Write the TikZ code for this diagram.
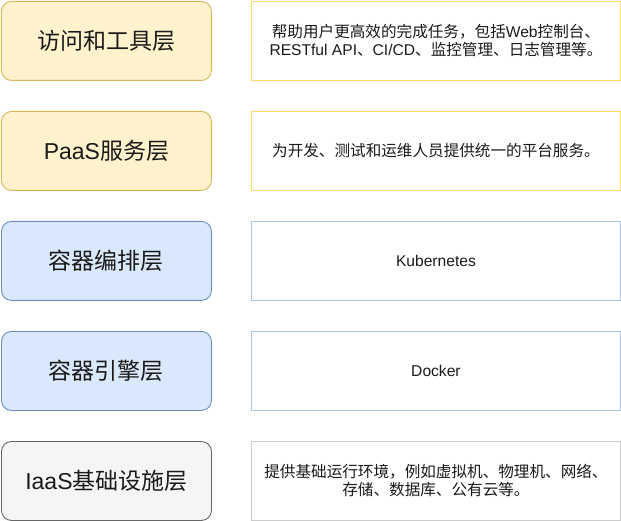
\documentclass[tikz,border=0pt]{standalone}
\usepackage{fontspec}
\setmainfont{Liberation Sans}
\newfontfamily\zhf{Noto Sans CJK SC}
\newcommand{\zh}[1]{{\zhf #1}}
\definecolor{yfill}{HTML}{FFF2CC}
\definecolor{ydraw}{HTML}{D6B656}
\definecolor{bfill}{HTML}{DAE8FC}
\definecolor{bdraw}{HTML}{6C8EBF}
\definecolor{gfill}{HTML}{F5F5F5}
\definecolor{gdraw}{HTML}{666666}
\definecolor{ryd}{HTML}{FFD966}
\definecolor{rbd}{HTML}{A9C4EB}
\definecolor{rgd}{HTML}{CCCCCC}
\definecolor{txt}{HTML}{1A1A1A}
\begin{document}
\begin{tikzpicture}[x=1pt,y=-1pt,
  layer/.style={draw, rounded corners=10pt, line width=0.9pt, minimum width=210pt, minimum height=79pt, anchor=north west, inner sep=0pt, font=\fontsize{23}{27}\selectfont, text=txt},
  desc/.style={draw, line width=0.9pt, fill=white, minimum width=369pt, minimum height=79pt, anchor=north west, inner sep=0pt, align=center, font=\fontsize{15.6}{18}\selectfont, text=txt}]
\useasboundingbox (0,0) rectangle (621,521);
\node[layer, fill=yfill, draw=ydraw] (l1) at (1,1) {\zh{访问和工具层}};
\node[layer, fill=yfill, draw=ydraw] (l2) at (1,111) {PaaS\zh{服务层}};
\node[layer, fill=bfill, draw=bdraw] (l3) at (1,221) {\zh{容器编排层}};
\node[layer, fill=bfill, draw=bdraw] (l4) at (1,331) {\zh{容器引擎层}};
\node[layer, fill=gfill, draw=gdraw] (l5) at (1,441) {IaaS\zh{基础设施层}};
\node[desc, draw=ryd] (d1) at (251,1) {\zh{帮助用户更高效的完成任务，包括}Web\zh{控制台、}\\RESTful API\zh{、}CI/CD\zh{、监控管理、日志管理等。}};
\node[desc, draw=ryd] (d2) at (251,111) {\zh{为开发、测试和运维人员提供统一的平台服务。}};
\node[desc, draw=rbd] (d3) at (251,221) {Kubernetes};
\node[desc, draw=rbd] (d4) at (251,331) {Docker};
\node[desc, draw=rgd] (d5) at (251,441) {\zh{提供基础运行环境，例如虚拟机、物理机、网络、}\\\zh{存储、数据库、公有云等。}};
\end{tikzpicture}
\end{document}
